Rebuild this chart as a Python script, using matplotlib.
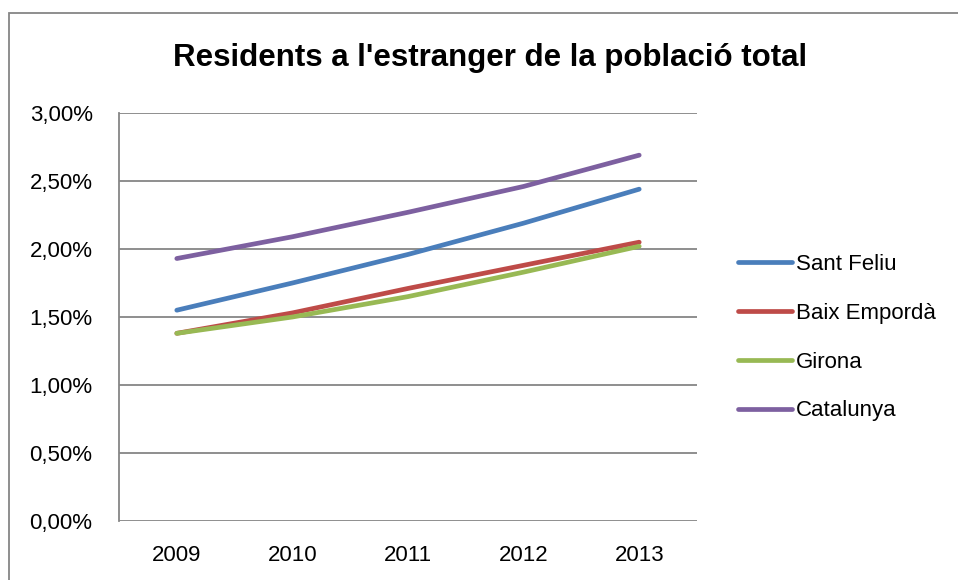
import matplotlib
matplotlib.use('Agg')
import matplotlib.pyplot as plt
from matplotlib.patches import Rectangle
from matplotlib.ticker import FuncFormatter

plt.rcParams['font.family'] = ['Liberation Sans', 'DejaVu Sans']

years = ['2009', '2010', '2011', '2012', '2013']
sant_feliu = [1.55, 1.75, 1.96, 2.19, 2.44]
baix_emporda = [1.38, 1.53, 1.71, 1.88, 2.05]
girona = [1.38, 1.50, 1.65, 1.83, 2.02]
catalunya = [1.93, 2.09, 2.27, 2.46, 2.69]

series = [
    ('Sant Feliu', sant_feliu, '#4a7ebb'),
    ('Baix Empordà', baix_emporda, '#be4b48'),
    ('Girona', girona, '#98b954'),
    ('Catalunya', catalunya, '#7d60a0'),
]

fig = plt.figure(figsize=(9.58, 5.8), dpi=100)
ax = fig.add_axes([119/958, 1 - 521/580, 578/958, 408/580])

x = list(range(len(years)))
for name, vals, col in series:
    ax.plot(x, vals, color=col, lw=3.4, solid_capstyle='round', label=name)

ax.set_xlim(-0.5, len(years) - 0.5)
ax.set_ylim(0, 3.0)
ax.set_yticks([0, 0.5, 1.0, 1.5, 2.0, 2.5, 3.0])
ax.yaxis.set_major_formatter(FuncFormatter(lambda v, p: f"{v:.2f}%".replace('.', ',')))
ax.set_xticks(x)
ax.set_xticklabels(years)
ax.grid(axis='y', color='#868686', lw=1.3)
ax.set_axisbelow(True)
ax.tick_params(axis='both', length=0, labelsize=16)
ax.tick_params(axis='y', pad=19)
ax.tick_params(axis='x', pad=17.5)
for s in ['top', 'right', 'bottom']:
    ax.spines[s].set_visible(False)
ax.spines['left'].set_color('#868686')
ax.spines['left'].set_linewidth(1.3)

fig.text(490/958, 1 - 58/580, "Residents a l'estranger de la població total",
         ha='center', va='center', fontsize=22.5, fontweight='bold')

fig.legend(loc='upper left', bbox_to_anchor=(718/958, 1 - 234/580), frameon=False,
           fontsize=16, handlelength=2.45, handletextpad=0.15, labelspacing=1.25)

fig.patches.append(Rectangle((9/958, -0.1), 1.2, 1.1 - 13/580, transform=fig.transFigure,
                             fill=False, edgecolor='#868686', lw=1.3))

fig.savefig('out.png', dpi=100)
